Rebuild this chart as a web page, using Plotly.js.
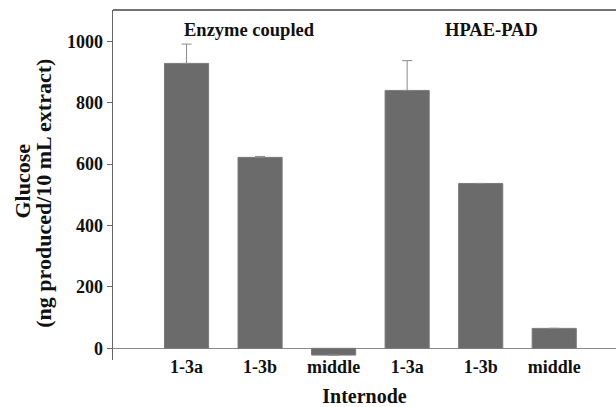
<!DOCTYPE html>
<html>
<head>
<meta charset="utf-8">
<script src="https://cdn.plot.ly/plotly-3.0.1.min.js"></script>
<style>html,body{margin:0;padding:0;background:#fff;}#chart{width:616px;height:407px;}</style>
</head>
<body>
<div id="chart"></div>
<script>
const tickLabels = ["1-3a", "1-3b", "middle", "1-3a", "1-3b", "middle"];
const glucose = [928, 622, -22, 840, 537, 65];
const errorPlus = [63, 3, 0, 97, 0, 0];
const groupLabels = ["Enzyme coupled", "HPAE-PAD"];
const groupCenters = [0.85, 4.15];
const yTicks = [0, 200, 400, 600, 800, 1000];
const yTitleLines = ["Glucose", "(ng produced/10 mL extract)"];

const positions = tickLabels.map((_, i) => i);
const font = "Liberation Serif, Times New Roman, serif";

const trace = {
  type: "bar",
  x: positions,
  y: glucose,
  width: 0.6,
  marker: {color: "#6b6b6b", line: {color: "#7a7a7a", width: 1}},
  error_y: {type: "data", symmetric: false, array: errorPlus, arrayminus: glucose.map(() => 0),
            color: "#8a8a8a", thickness: 1, width: 5},
  hoverinfo: "none"
};

const groupAnn = groupLabels.map((t, i) => ({
  x: groupCenters[i], y: 1, xref: "x", yref: "paper", yanchor: "top", yshift: -8,
  text: "<b>" + t + "</b>", showarrow: false, font: {family: font, size: 18.5, color: "#111"}
}));
const titleShifts = [-91, -69];
const titleY = [0.51, 0.475];
const titleAnn = yTitleLines.map((t, i) => ({
  x: 0, y: titleY[i], xref: "paper", yref: "paper", xanchor: "center", yanchor: "middle",
  xshift: titleShifts[i], textangle: -90,
  text: "<b>" + t + "</b>", showarrow: false, font: {family: font, size: 22, color: "#111"}
}));

const layout = {
  width: 616, height: 407,
  margin: {l: 113, r: 0, t: 10, b: 47},
  paper_bgcolor: "#fff", plot_bgcolor: "#fff",
  showlegend: false,
  font: {family: font, color: "#111", size: 17},
  xaxis: {
    range: [-1.0, 5.84],
    tickmode: "array", tickvals: positions, ticktext: tickLabels,
    showgrid: false, zeroline: false, showline: false, ticks: "",
    ticklabelstandoff: -6,
    tickfont: {family: font, size: 18, weight: "bold"},
    title: {text: "<b>Internode</b>", font: {family: font, size: 20}, standoff: 13}
  },
  yaxis: {
    range: [-38, 1102],
    tickmode: "array", tickvals: yTicks,
    showgrid: false, zeroline: true, zerolinecolor: "#8a8a8a", zerolinewidth: 1.5,
    showline: true, linecolor: "#666", linewidth: 1.5,
    ticks: "outside", ticklen: 5, tickcolor: "#666",
    tickfont: {family: font, size: 18, weight: "bold"}
  },
  shapes: [
    {type: "line", xref: "paper", yref: "paper", x0: 0, x1: 1, y0: 1, y1: 1, line: {color: "#444", width: 1.5}}
  ],
  annotations: groupAnn.concat(titleAnn)
};

Plotly.newPlot("chart", [trace], layout, {staticPlot: true, displayModeBar: false});
</script>
</body>
</html>
